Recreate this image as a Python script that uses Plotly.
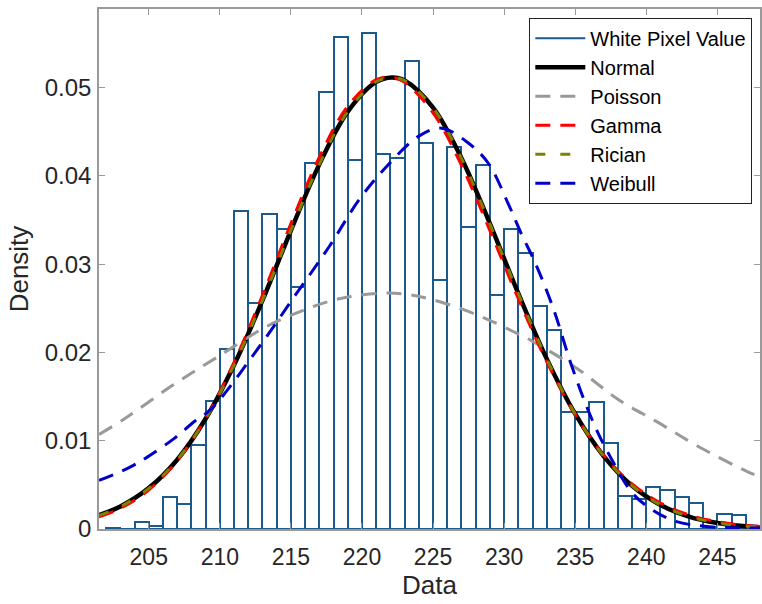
import plotly.graph_objects as go

# ---------------- data ----------------
bin_left = list(range(202, 247))  # bin left edges, bin width 1
density = [0.00015, 0.0, 0.00083, 0.0003, 0.0036, 0.0028, 0.0095, 0.0145,
           0.0204, 0.0360, 0.0256, 0.0357, 0.0340, 0.0274, 0.0415, 0.0495,
           0.0557, 0.0418, 0.0562, 0.0425, 0.0420, 0.0530, 0.0437, 0.0282,
           0.0433, 0.0342, 0.0412, 0.0265, 0.0340, 0.0313, 0.0253, 0.0225,
           0.0132, 0.0132, 0.0144, 0.0097, 0.0037, 0.0034, 0.0048, 0.0044,
           0.0036, 0.0029, 0.0002, 0.0017, 0.0016]

fit_x = [201.5, 203, 205, 207, 209, 211, 213, 215, 217, 219, 221, 222.1, 223,
         225, 227, 229, 231, 233, 235, 237, 239, 241, 243, 245, 247, 248]
normal_y = [0.00157, 0.00255, 0.00463, 0.00785, 0.01249, 0.01858, 0.02589,
            0.03381, 0.04130, 0.04727, 0.05064, 0.05115, 0.05081, 0.04773,
            0.04200, 0.03459, 0.02668, 0.01927, 0.01303, 0.00826, 0.00489,
            0.00272, 0.00141, 0.00069, 0.00031, 0.00021]
gamma_y = [0.00138, 0.00233, 0.00442, 0.00772, 0.01254, 0.01888, 0.02647,
           0.03459, 0.04211, 0.04789, 0.05089, 0.05115, 0.05061, 0.04714,
           0.04120, 0.03380, 0.02608, 0.01894, 0.01296, 0.00838, 0.00510,
           0.00294, 0.00159, 0.00082, 0.00039, 0.00028]
rician_y = [0.00155, 0.00253, 0.00461, 0.00783, 0.01247, 0.01857, 0.02589,
            0.03382, 0.04131, 0.04728, 0.05065, 0.05115, 0.05080, 0.04771,
            0.04197, 0.03456, 0.02666, 0.01926, 0.01303, 0.00827, 0.00490,
            0.00273, 0.00142, 0.00070, 0.00032, 0.00022]

poisson_x = [201.5, 203.4, 206.7, 209.75, 213.25, 215.6, 217.5, 219.1, 221.2,
             223.1, 224.9, 227.05, 228.9, 230.6, 231.95, 235.2, 238.0, 240.8,
             243.6, 247.1, 248]
poisson_y = [0.0107, 0.0126, 0.0163, 0.0194, 0.0229, 0.0246, 0.0257, 0.0263,
             0.0267, 0.0266, 0.0260, 0.0249, 0.0237, 0.0224, 0.0213, 0.0181,
             0.0147, 0.0121, 0.0094, 0.0065, 0.0059]

weibull_x = [201.5, 203.55, 204.95, 206.82, 208.23, 209.4, 212.8, 215.1, 217.7,
             219.8, 221.7, 224.0, 225.6, 227.5, 228.9, 230.3, 231.25, 232.2,
             233.5, 234.6, 235.7, 236.6, 237.6, 239.0, 240.4, 242.0, 244.1, 248]
weibull_y = [0.0055, 0.0069, 0.0082, 0.0103, 0.0122, 0.0136, 0.0207, 0.0260,
             0.0320, 0.0373, 0.0410, 0.0445, 0.0454, 0.0437, 0.0414, 0.0368,
             0.0333, 0.0301, 0.0248, 0.0192, 0.0143, 0.0109, 0.0078, 0.0041,
             0.0022, 0.0009, 0.0003, 0.0001]

x_ticks = [205, 210, 215, 220, 225, 230, 235, 240, 245]
y_ticks = [0, 0.01, 0.02, 0.03, 0.04, 0.05]
y_tick_text = ["0", "0.01", "0.02", "0.03", "0.04", "0.05"]

# ---------------- style ----------------
HIST_BLUE = "#1d5a8c"
FONT = "Liberation Sans, Arial, sans-serif"
TXT = "#262626"
AX = "#9a9a9a"

fig = go.Figure()

fig.add_trace(go.Bar(
    x=[b + 0.5 for b in bin_left], y=density, width=1,
    marker=dict(color="rgba(255,255,255,0)", line=dict(color=HIST_BLUE, width=2)),
    showlegend=False, hoverinfo="skip"))

fig.add_trace(go.Scatter(x=[None], y=[None], mode="lines", name="White Pixel Value",
                         line=dict(color=HIST_BLUE, width=2)))
fig.add_trace(go.Scatter(x=fit_x, y=normal_y, mode="lines", name="Normal",
                         line=dict(color="black", width=4.5, shape="spline")))
fig.add_trace(go.Scatter(x=poisson_x, y=poisson_y, mode="lines", name="Poisson",
                         line=dict(color="#999999", width=3, dash="15px,10px", shape="spline")))
fig.add_trace(go.Scatter(x=fit_x, y=gamma_y, mode="lines", name="Gamma",
                         line=dict(color="#ff0000", width=3, dash="15px,10px", shape="spline")))
fig.add_trace(go.Scatter(x=fit_x, y=rician_y, mode="lines", name="Rician",
                         line=dict(color="#808000", width=3, dash="10px,15px", shape="spline")))
fig.add_trace(go.Scatter(x=weibull_x, y=weibull_y, mode="lines", name="Weibull",
                         line=dict(color="#0000c8", width=3, dash="15px,10px", shape="spline")))

fig.update_layout(
    width=762, height=604,
    margin=dict(l=99, r=0, t=9, b=75),
    paper_bgcolor="white", plot_bgcolor="white",
    font=dict(family=FONT, color=TXT),
    bargap=0,
    legend=dict(x=0.651, y=0.983, xanchor="left", yanchor="top",
                bgcolor="white", bordercolor="#222222", borderwidth=1,
                font=dict(size=20, family=FONT, color="black"),
                itemwidth=50, tracegroupgap=0),
)

fig.update_xaxes(
    range=[201.5, 248.0], tickvals=x_ticks, ticktext=[str(v) for v in x_ticks],
    ticks="inside", ticklen=6, tickcolor=AX, showline=True, linecolor=AX, linewidth=1.5,
    mirror="ticks", showgrid=False, zeroline=False, ticklabelstandoff=7,
    tickfont=dict(size=23, family=FONT, color=TXT),
    title=dict(text="Data", font=dict(size=26, family=FONT, color=TXT), standoff=6),
)
fig.update_yaxes(
    range=[0, 0.0589], tickvals=y_ticks, ticktext=y_tick_text,
    ticks="inside", ticklen=6, tickcolor=AX, showline=True, linecolor=AX, linewidth=1.5,
    mirror="ticks", showgrid=False, zeroline=False, ticklabelstandoff=1,
    tickfont=dict(size=24, family=FONT, color=TXT),
    title=dict(text="Density", font=dict(size=26, family=FONT, color=TXT), standoff=9),
)

fig.write_html("out.html")
